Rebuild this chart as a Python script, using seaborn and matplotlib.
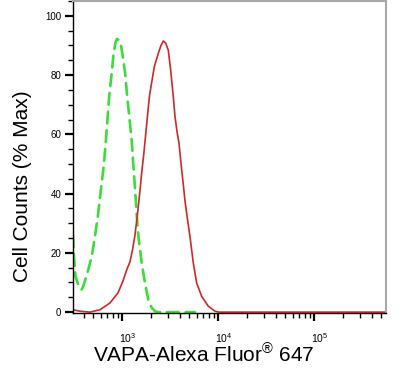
import numpy as np
import pandas as pd
import matplotlib
matplotlib.use("Agg")
import matplotlib.pyplot as plt
import matplotlib.ticker as mticker
import matplotlib.transforms as mtransforms
import seaborn as sns

# ---- data ----
red_x = [309, 365, 464, 590, 750, 909, 1024, 1127, 1212, 1287, 1366, 1450, 1540,
         1616, 1695, 1778, 1866, 1934, 2039, 2170, 2298, 2428, 2549, 2693, 2852,
         3036, 3216, 3423, 3566, 3741, 3925, 4118, 4320, 4533, 4755, 5109, 5529,
         5999, 6766, 7925, 9307, 10243, 100000, 560000]
red_y = [0.8, 0.3, 0.0, 0.8, 3.1, 6.5, 10.5, 14.5, 17.0, 21.0, 26.0, 33.0, 41.0,
         48.0, 54.0, 61.0, 68.0, 73.0, 77.5, 82.8, 85.5, 88.0, 90.0, 91.5, 90.8,
         88.4, 81.6, 72.7, 66.0, 61.0, 57.0, 50.2, 44.0, 37.5, 32.5, 25.5, 16.6,
         9.8, 5.3, 2.0, 0.3, 0.0, 0.0, 0.0]

green_x = [309, 316, 328, 352, 380, 395, 446, 484, 523, 566, 600, 639, 673, 706,
           737, 781, 816, 856, 887, 930, 976, 1024, 1075, 1136, 1191, 1262, 1311,
           1366, 1423, 1478, 1604, 1736, 1879, 2039, 2207, 2371, 5758]
green_y = [26.0, 19.0, 12.0, 9.0, 7.6, 8.7, 14.3, 18.8, 25.5, 33.4, 40.7, 48.0,
           56.0, 65.0, 73.0, 80.5, 87.0, 91.0, 92.2, 91.8, 90.0, 86.0, 81.0, 72.5,
           66.0, 58.0, 50.0, 42.0, 33.0, 26.0, 16.6, 9.8, 4.2, 1.5, 0.3, 0.0, 0.0]

y_ticks = [0, 20, 40, 60, 80, 100]
x_ticks = [1e3, 1e4, 1e5]
x_tick_labels = [r"$\mathregular{10^3}$", r"$\mathregular{10^4}$", r"$\mathregular{10^5}$"]
xlabel = r"VAPA-Alexa Fluor$^{\mathregular{®}}$ 647"
ylabel = "Cell Counts (% Max)"

sns.set_theme(style="ticks")
plt.rcParams["font.family"] = ["Liberation Sans", "DejaVu Sans"]
plt.rcParams["mathtext.fontset"] = "custom"
plt.rcParams["mathtext.rm"] = "Liberation Sans"
plt.rcParams["mathtext.it"] = "Liberation Sans:italic"
plt.rcParams["mathtext.bf"] = "Liberation Sans:bold"
plt.rcParams["text.color"] = "black"
plt.rcParams["axes.labelcolor"] = "black"
plt.rcParams["xtick.color"] = "black"
plt.rcParams["ytick.color"] = "black"

fig = plt.figure(figsize=(4.11, 3.68), dpi=100)
ax = fig.add_axes([73 / 411, 1 - 313 / 368, (386 - 73) / 411, 312 / 368])
ax.set_xscale("log")

dr = pd.DataFrame({"x": red_x, "y": red_y})
dg = pd.DataFrame({"x": green_x, "y": green_y})

sns.lineplot(data=dg, x="x", y="y", ax=ax, color="#3ddc3a", lw=1.9,
             sort=False, estimator=None)
ax.lines[-1].set_dashes([4.5, 2.6])
ax.lines[-1].set_dash_capstyle("round")
sns.lineplot(data=dr, x="x", y="y", ax=ax, color="#cc2a2a", lw=1.2,
             sort=False, estimator=None)
ax.lines[-1].set_solid_joinstyle("round")

ax.set_xlim(309, 562000)
ax.set_ylim(-0.3, 105)

ax.set_yticks(y_ticks)
ax.yaxis.set_minor_locator(mticker.MultipleLocator(5))
ax.set_xticks(x_ticks)
ax.set_xticklabels(x_tick_labels)
ax.xaxis.set_minor_locator(mticker.LogLocator(base=10, subs=np.arange(2, 10)))
ax.xaxis.set_minor_formatter(mticker.NullFormatter())

ax.tick_params(axis="both", which="major", direction="out", length=6, width=1.6,
               color="black", labelsize=7, pad=2.5, labelcolor="black")
ax.tick_params(axis="both", which="minor", direction="out", length=3.5, width=1.0,
               color="black")
ax.tick_params(axis="x", which="major", pad=7, labelsize=7.5)

offset = mtransforms.ScaledTranslation(6 / 100, 0, fig.dpi_scale_trans)
for lab in ax.get_xticklabels():
    lab.set_transform(lab.get_transform() + offset)

for s in ["left", "bottom"]:
    ax.spines[s].set_color("black")
    ax.spines[s].set_linewidth(1.0)
for s in ["top", "right"]:
    ax.spines[s].set_visible(True)
    ax.spines[s].set_color("#a8a8a8")
    ax.spines[s].set_linewidth(1.5)

ax.set_xlabel(xlabel, fontsize=15, color="black")
ax.set_ylabel(ylabel, fontsize=15, color="black")
ax.xaxis.set_label_coords(0.417, -0.098)
ax.yaxis.set_label_coords(-0.131, 0.407)

fig.savefig("out.png", dpi=100)
